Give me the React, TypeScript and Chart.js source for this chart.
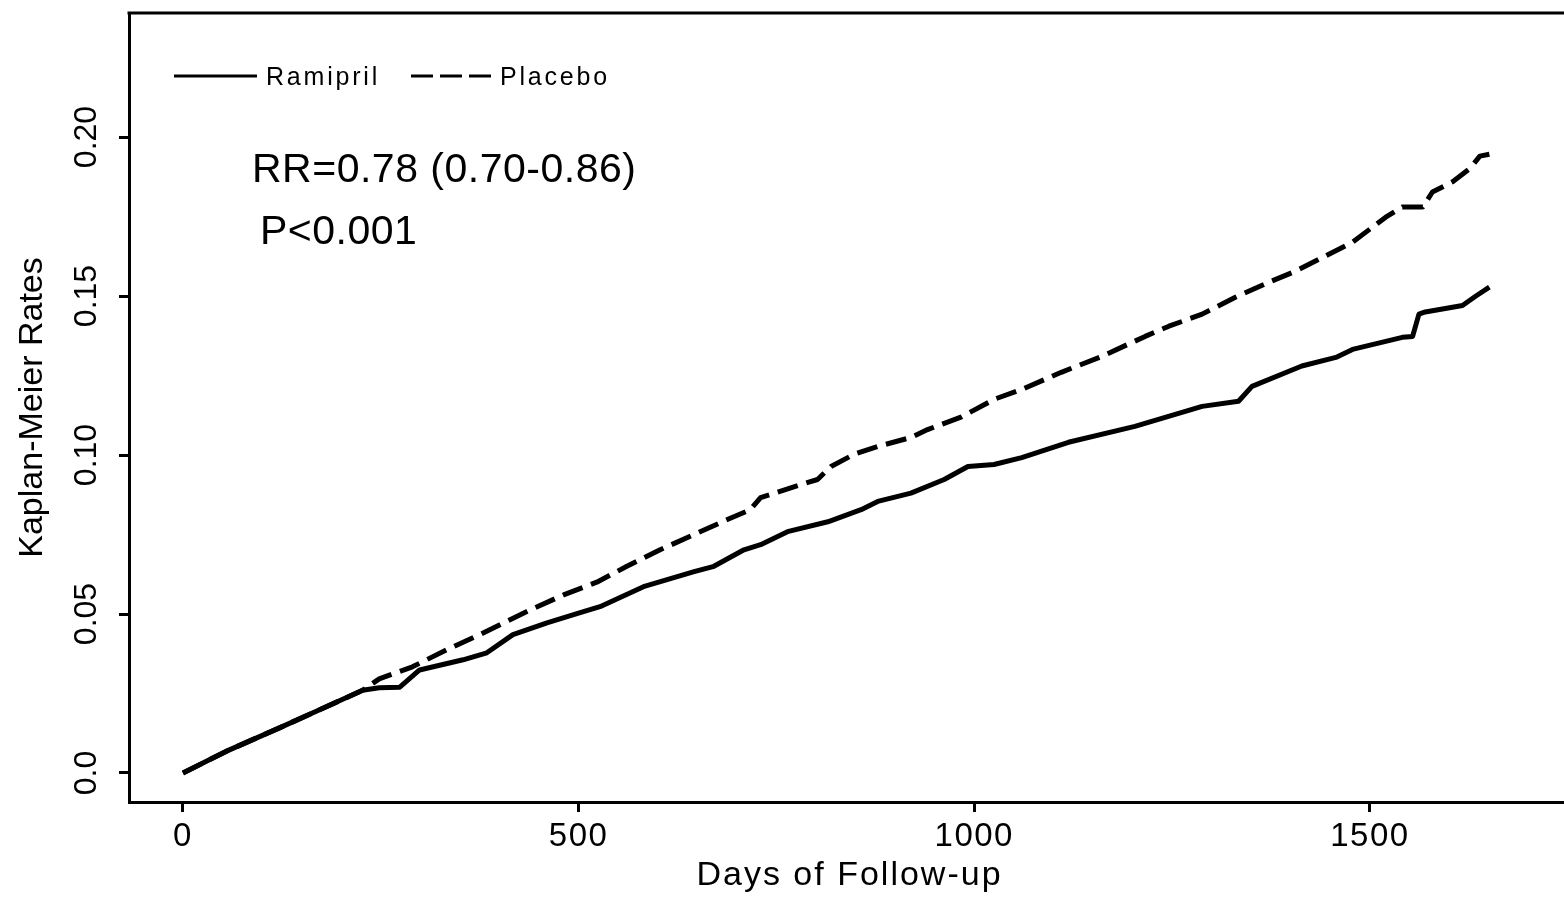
import React, { useEffect, useRef } from "react";
import { Chart, registerables } from "chart.js";

Chart.register(...registerables);

const FONT = "'Liberation Sans', Arial, Helvetica, sans-serif";

// ---------- data ----------
const seriesNames = ["Ramipril", "Placebo"];

const ramiprilDays = [
  0, 58, 122, 172, 227, 248, 274, 299, 354, 384, 417, 460, 502, 527, 582, 646,
  671, 709, 730, 764, 815, 857, 878, 920, 962, 992, 1025, 1060, 1119, 1203,
  1288, 1334, 1351, 1414, 1457, 1478, 1541, 1554, 1562, 1570, 1617, 1634, 1651,
];
const ramiprilRates = [
  0, 0.0072, 0.0142, 0.0198, 0.026, 0.0268, 0.027, 0.0324, 0.0356, 0.0378,
  0.0435, 0.0472, 0.0504, 0.0523, 0.0586, 0.0633, 0.065, 0.0702, 0.0718,
  0.0759, 0.079, 0.0828, 0.0854, 0.088, 0.0923, 0.0964, 0.097, 0.0992, 0.104,
  0.109, 0.1153, 0.1169, 0.1216, 0.128, 0.1307, 0.1332, 0.137, 0.1373, 0.1443,
  0.145, 0.147, 0.15, 0.1528,
];

const placeboDays = [
  0, 58, 122, 172, 227, 248, 290, 333, 375, 405, 439, 481, 523, 561, 603, 646,
  688, 717, 730, 772, 802, 819, 848, 878, 920, 941, 984, 1025, 1060, 1110,
  1161, 1216, 1246, 1288, 1330, 1372, 1406, 1436, 1478, 1520, 1541, 1567, 1579,
  1605, 1626, 1639, 1651,
];
const placeboRates = [
  0, 0.0072, 0.0142, 0.0198, 0.026, 0.0296, 0.0334, 0.0387, 0.0435, 0.0472,
  0.0513, 0.056, 0.06, 0.065, 0.0702, 0.075, 0.0797, 0.0828, 0.0866, 0.09,
  0.0923, 0.0964, 0.1002, 0.1027, 0.1055, 0.108, 0.112, 0.1175, 0.1206, 0.126,
  0.131, 0.1373, 0.1405, 0.1443, 0.1496, 0.1543, 0.1578, 0.1616, 0.1669,
  0.1748, 0.178, 0.178, 0.1827, 0.186, 0.19, 0.194, 0.1946,
];

const xTickValues = [0, 500, 1000, 1500];
const xTickLabels = ["0", "500", "1000", "1500"];
const yTickValues = [0, 0.05, 0.1, 0.15, 0.2];
const yTickLabels = ["0.0", "0.05", "0.10", "0.15", "0.20"];
const annotationLines = ["RR=0.78 (0.70-0.86)", "P<0.001"];
const xAxisTitle = "Days of Follow-up";
const yAxisTitle = "Kaplan-Meier Rates";

// ---------- axis ranges ----------
const X_MIN = -68.2;
const X_MAX = 1752.9;
const Y_MIN = -0.00912;
const Y_MAX = 0.239;

const CANVAS_W = 1570;
const CANVAS_H = 899;

const decorPlugin = {
  id: "kmDecor",
  beforeDraw(chart: any) {
    const ctx = chart.ctx as any;
    const sx = chart.scales.x as any;
    if (sx && !sx.__ls) {
      const dl = sx.drawLabels.bind(sx);
      const dt = sx.drawTitle.bind(sx);
      sx.drawLabels = (a: any) => {
        ctx.save();
        ctx.letterSpacing = "1.5px";
        dl(a);
        ctx.restore();
      };
      sx.drawTitle = () => {
        ctx.save();
        ctx.letterSpacing = "2px";
        dt();
        ctx.restore();
      };
      sx.__ls = true;
    }
    ctx.save();
    ctx.fillStyle = "#ffffff";
    ctx.fillRect(0, 0, chart.width, chart.height);
    ctx.restore();
  },
  afterDraw(chart: any) {
    const ctx = chart.ctx as any;
    const area = chart.chartArea;
    ctx.save();
    // top frame line
    ctx.strokeStyle = "#000";
    ctx.lineWidth = 3;
    ctx.setLineDash([]);
    ctx.beginPath();
    ctx.moveTo(area.left - 1.5, area.top);
    ctx.lineTo(area.right + 2, area.top);
    ctx.stroke();

    // legend
    const names = chart.data.datasets.map((d: any) => d.label);
    ctx.fillStyle = "#000";
    ctx.font = `25px ${FONT}`;
    ctx.letterSpacing = "2.8px";
    ctx.textBaseline = "alphabetic";
    ctx.textAlign = "left";
    ctx.lineWidth = 3;
    ctx.beginPath();
    ctx.moveTo(174, 76);
    ctx.lineTo(257, 76);
    ctx.stroke();
    ctx.fillText(names[0], 266, 85);
    ctx.setLineDash([22, 7]);
    ctx.beginPath();
    ctx.moveTo(411, 76);
    ctx.lineTo(493, 76);
    ctx.stroke();
    ctx.setLineDash([]);
    ctx.fillText(names[1], 500, 85);

    // annotations
    ctx.font = `41px ${FONT}`;
    ctx.letterSpacing = "0.5px";
    ctx.fillText(annotationLines[0], 252, 182);
    ctx.fillText(annotationLines[1], 260, 244);
    ctx.restore();
  },
};

export default function App() {
  const canvasRef = useRef<HTMLCanvasElement | null>(null);

  useEffect(() => {
    const canvas = canvasRef.current;
    if (!canvas) return;

    const axisGrid = {
      drawOnChartArea: false,
      drawTicks: true,
      tickLength: 10,
      color: "#000",
      lineWidth: 3,
    };
    const axisBorder = { display: true, color: "#000", width: 3 };

    const chart = new Chart(canvas, {
      type: "line",
      data: {
        datasets: [
          {
            label: seriesNames[0],
            data: ramiprilDays.map((d, i) => ({ x: d, y: ramiprilRates[i] })),
            borderColor: "#000",
            backgroundColor: "#000",
            borderWidth: 5,
            pointRadius: 0,
            tension: 0,
            fill: false,
            borderJoinStyle: "round",
          },
          {
            label: seriesNames[1],
            data: placeboDays.map((d, i) => ({ x: d, y: placeboRates[i] })),
            borderColor: "#000",
            backgroundColor: "#000",
            borderWidth: 5,
            borderDash: [21, 9],
            pointRadius: 0,
            tension: 0,
            fill: false,
            borderJoinStyle: "round",
          },
        ],
      },
      options: {
        animation: false,
        responsive: false,
        devicePixelRatio: 1,
        events: [],
        layout: { padding: { top: 13, left: 0, right: 0, bottom: 0 } },
        plugins: {
          legend: { display: false },
          tooltip: { enabled: false },
          title: { display: false },
        },
        scales: {
          x: {
            type: "linear",
            min: X_MIN,
            max: X_MAX,
            afterBuildTicks: (s: any) => {
              s.ticks = xTickValues.map((v) => ({ value: v }));
            },
            afterFit: (s: any) => {
              s.height = 97;
              s.paddingLeft = 0;
              s.paddingRight = 0;
            },
            ticks: {
              autoSkip: false,
              minRotation: 0,
              maxRotation: 0,
              padding: 5,
              color: "#000",
              font: { family: FONT, size: 33 },
              callback: (_v: any, i: number) => xTickLabels[i],
            },
            grid: axisGrid,
            border: axisBorder,
            title: {
              display: true,
              text: xAxisTitle,
              color: "#000",
              font: { family: FONT, size: 34 },
              padding: { top: 0, bottom: 3 },
            },
          },
          y: {
            type: "linear",
            min: Y_MIN,
            max: Y_MAX,
            afterBuildTicks: (s: any) => {
              s.ticks = yTickValues.map((v) => ({ value: v }));
            },
            afterFit: (s: any) => {
              s.width = 129;
              s.paddingTop = 0;
              s.paddingBottom = 0;
            },
            ticks: {
              autoSkip: false,
              minRotation: 90,
              maxRotation: 90,
              crossAlign: "center",
              padding: 1,
              color: "#000",
              font: { family: FONT, size: 32 },
              callback: (_v: any, i: number) => yTickLabels[i],
            },
            grid: axisGrid,
            border: axisBorder,
            title: {
              display: true,
              text: yAxisTitle,
              color: "#000",
              font: { family: FONT, size: 34 },
              padding: { top: 12, bottom: 0 },
            },
          },
        },
      } as any,
      plugins: [decorPlugin],
    } as any);

    return () => {
      chart.destroy();
    };
  }, []);

  return (
    <div
      style={{
        position: "absolute",
        left: 0,
        top: 0,
        width: 1564,
        height: 899,
        overflow: "hidden",
        background: "#fff",
      }}
    >
      <canvas
        ref={canvasRef}
        width={CANVAS_W}
        height={CANVAS_H}
        style={{ display: "block", width: CANVAS_W, height: CANVAS_H }}
      />
    </div>
  );
}
